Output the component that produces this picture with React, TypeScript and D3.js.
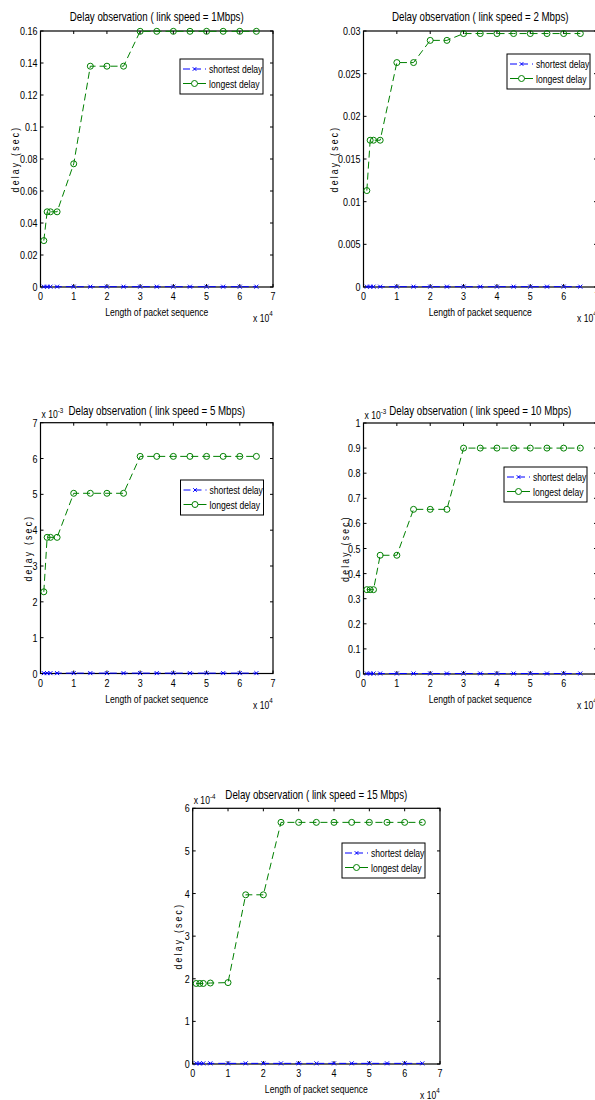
import React from "react";
import * as d3 from "d3";

// ---------- data ----------
const packetLengths = [1000, 2000, 3000, 5000, 10000, 15000, 20000, 25000, 30000, 35000, 40000, 45000, 50000, 55000, 60000, 65000];

const longest1 = [0.029, 0.047, 0.047, 0.047, 0.077, 0.138, 0.138, 0.138, 0.1598, 0.1598, 0.1598, 0.1598, 0.1598, 0.1598, 0.1598, 0.1598];
const shortest1 = [0.0002, 0.0002, 0.0002, 0.0002, 0.0002, 0.0002, 0.0002, 0.0002, 0.0002, 0.0002, 0.0002, 0.0002, 0.0002, 0.0002, 0.0002, 0.0002];

const longest2 = [0.0113, 0.0172, 0.0172, 0.0172, 0.0263, 0.0263, 0.0289, 0.0289, 0.0297, 0.0297, 0.0297, 0.0297, 0.0297, 0.0297, 0.0297, 0.0297];
const shortest2 = [0.00004, 0.00004, 0.00004, 0.00004, 0.00004, 0.00004, 0.00004, 0.00004, 0.00004, 0.00004, 0.00004, 0.00004, 0.00004, 0.00004, 0.00004, 0.00004];

const longest3 = [0.00228, 0.0038, 0.0038, 0.0038, 0.00503, 0.00503, 0.00503, 0.00503, 0.00606, 0.00606, 0.00606, 0.00606, 0.00606, 0.00606, 0.00606, 0.00606];
const shortest3 = [0.00001, 0.00001, 0.00001, 0.00001, 0.00001, 0.00001, 0.00001, 0.00001, 0.00001, 0.00001, 0.00001, 0.00001, 0.00001, 0.00001, 0.00001, 0.00001];

const longest4 = [0.000336, 0.000336, 0.000336, 0.000473, 0.000473, 0.000656, 0.000656, 0.000656, 0.0009, 0.0009, 0.0009, 0.0009, 0.0009, 0.0009, 0.0009, 0.0009];
const shortest4 = [0.000002, 0.000002, 0.000002, 0.000002, 0.000002, 0.000002, 0.000002, 0.000002, 0.000002, 0.000002, 0.000002, 0.000002, 0.000002, 0.000002, 0.000002, 0.000002];

const longest5 = [0.000189, 0.000189, 0.000189, 0.00019, 0.000191, 0.000397, 0.000397, 0.000567, 0.000567, 0.000567, 0.000567, 0.000567, 0.000567, 0.000567, 0.000567, 0.000567];
const shortest5 = [0.0000015, 0.0000015, 0.0000015, 0.0000015, 0.0000015, 0.0000015, 0.0000015, 0.0000015, 0.0000015, 0.0000015, 0.0000015, 0.0000015, 0.0000015, 0.0000015, 0.0000015, 0.0000015];

const xTicks = [0, 10000, 20000, 30000, 40000, 50000, 60000, 70000];
const xTickLabels = ["0", "1", "2", "3", "4", "5", "6", "7"];

const yTicks1 = [0, 0.02, 0.04, 0.06, 0.08, 0.1, 0.12, 0.14, 0.16];
const yTickLabels1 = ["0", "0.02", "0.04", "0.06", "0.08", "0.1", "0.12", "0.14", "0.16"];
const yTicks2 = [0, 0.005, 0.01, 0.015, 0.02, 0.025, 0.03];
const yTickLabels2 = ["0", "0.005", "0.01", "0.015", "0.02", "0.025", "0.03"];
const yTicks3 = [0, 0.001, 0.002, 0.003, 0.004, 0.005, 0.006, 0.007];
const yTickLabels3 = ["0", "1", "2", "3", "4", "5", "6", "7"];
const yTicks4 = [0, 0.0001, 0.0002, 0.0003, 0.0004, 0.0005, 0.0006, 0.0007, 0.0008, 0.0009, 0.001];
const yTickLabels4 = ["0", "0.1", "0.2", "0.3", "0.4", "0.5", "0.6", "0.7", "0.8", "0.9", "1"];
const yTicks5 = [0, 0.0001, 0.0002, 0.0003, 0.0004, 0.0005, 0.0006];
const yTickLabels5 = ["0", "1", "2", "3", "4", "5", "6"];

const titles = [
  "Delay observation ( link speed = 1Mbps)",
  "Delay observation ( link speed = 2 Mbps)",
  "Delay observation ( link speed = 5 Mbps)",
  "Delay observation ( link speed = 10 Mbps)",
  "Delay observation ( link speed = 15 Mbps)",
];
const seriesNames = ["shortest delay", "longest delay"];

// ---------- style ----------
const FONT = "'Liberation Sans', Arial, Helvetica, sans-serif";
const SX = 0.78; // condensed look of the original typeface
const GREEN = "#008000";
const BLUE = "#0000ff";

type PanelCfg = {
  title: string;
  left: number; top: number; right: number; bottom: number;
  yMax: number; yTicks: number[]; yTickLabels: string[];
  exponent?: string;
  longest: number[]; shortest: number[];
  legendX: number; legendY: number;
  yLabelOffset: number;
  titleOffset: number;
};

const panels: PanelCfg[] = [
  { title: titles[0], left: 40.5, top: 31, right: 273, bottom: 287, yMax: 0.16, yTicks: yTicks1, yTickLabels: yTickLabels1, longest: longest1, shortest: shortest1, legendX: 180, legendY: 59, yLabelOffset: 22, titleOffset: 10 },
  { title: titles[1], left: 363.5, top: 31, right: 597, bottom: 287, yMax: 0.03, yTicks: yTicks2, yTickLabels: yTickLabels2, longest: longest2, shortest: shortest2, legendX: 507, legendY: 54, yLabelOffset: 26, titleOffset: 10 },
  { title: titles[2], left: 40.5, top: 422.7, right: 273, bottom: 673.5, yMax: 0.007, yTicks: yTicks3, yTickLabels: yTickLabels3, exponent: "-3", longest: longest3, shortest: shortest3, legendX: 180.5, legendY: 480, yLabelOffset: 9, titleOffset: 8 },
  { title: titles[3], left: 363.5, top: 423, right: 597, bottom: 674, yMax: 0.001, yTicks: yTicks4, yTickLabels: yTickLabels4, exponent: "-3", longest: longest4, shortest: shortest4, legendX: 504, legendY: 467, yLabelOffset: 15, titleOffset: 8 },
  { title: titles[4], left: 192.7, top: 808.3, right: 440, bottom: 1064, yMax: 0.0006, yTicks: yTicks5, yTickLabels: yTickLabels5, exponent: "-4", longest: longest5, shortest: shortest5, legendX: 342, legendY: 843, yLabelOffset: 11, titleOffset: 9 },
];

function T({ x, y, size = 11, anchor = "start", rotate = 0, spacing = 0, children }: any) {
  return (
    <text
      transform={`translate(${x},${y})${rotate ? ` rotate(${rotate})` : ""} scale(${SX},1)`}
      fontSize={size}
      textAnchor={anchor}
      letterSpacing={spacing}
      fill="#000"
    >
      {children}
    </text>
  );
}

function XMark({ x, y, s = 2 }: { x: number; y: number; s?: number }) {
  return (
    <path d={`M${x - s},${y - s}L${x + s},${y + s}M${x - s},${y + s}L${x + s},${y - s}`} stroke={BLUE} strokeWidth={1} fill="none" />
  );
}

function Panel({ cfg }: { cfg: PanelCfg }) {
  const x = d3.scaleLinear().domain([0, 70000]).range([cfg.left, cfg.right]);
  const y = d3.scaleLinear().domain([0, cfg.yMax]).range([cfg.bottom, cfg.top]);
  const line = d3.line<number>().x((_, i) => x(packetLengths[i])).y((d) => y(d));
  const tl = 3;
  const cx = (cfg.left + cfg.right) / 2;
  const cy = (cfg.top + cfg.bottom) / 2;
  const lx = cfg.legendX, ly = cfg.legendY;
  return (
    <g>
      {/* frame */}
      <rect x={cfg.left} y={cfg.top} width={cfg.right - cfg.left} height={cfg.bottom - cfg.top} fill="none" stroke="#000" strokeWidth={1.2} />
      {/* x ticks */}
      {xTicks.map((t, i) => (
        <g key={"xt" + i}>
          <line x1={x(t)} x2={x(t)} y1={cfg.bottom} y2={cfg.bottom - tl} stroke="#000" />
          <line x1={x(t)} x2={x(t)} y1={cfg.top} y2={cfg.top + tl} stroke="#000" />
          <T x={x(t)} y={cfg.bottom + 13} size={11.5} anchor="middle">{xTickLabels[i]}</T>
        </g>
      ))}
      {/* y ticks */}
      {cfg.yTicks.map((t, i) => (
        <g key={"yt" + i}>
          <line x1={cfg.left} x2={cfg.left + tl} y1={y(t)} y2={y(t)} stroke="#000" />
          <line x1={cfg.right} x2={cfg.right - tl} y1={y(t)} y2={y(t)} stroke="#000" />
          <T x={cfg.left - 3} y={y(t) + 4} size={11.5} anchor="end">{cfg.yTickLabels[i]}</T>
        </g>
      ))}
      {/* series */}
      <path d={line(cfg.shortest) || ""} fill="none" stroke={BLUE} strokeWidth={1} strokeDasharray="7,4" />
      {cfg.shortest.map((v, i) => (
        <XMark key={"s" + i} x={x(packetLengths[i])} y={y(v)} />
      ))}
      <path d={line(cfg.longest) || ""} fill="none" stroke={GREEN} strokeWidth={1} strokeDasharray="7,4" />
      {cfg.longest.map((v, i) => (
        <circle key={"l" + i} cx={x(packetLengths[i])} cy={y(v)} r={3} fill="none" stroke={GREEN} strokeWidth={1} />
      ))}
      {/* title */}
      <T x={cx} y={cfg.top - cfg.titleOffset} size={12.5} anchor="middle">{cfg.title}</T>
      {cfg.exponent && (
        <T x={cfg.left + 1} y={cfg.top - 4.5} size={11}>
          x 10<tspan dy={-5} fontSize={8}>{cfg.exponent}</tspan>
        </T>
      )}
      {/* axis labels */}
      <T x={cx} y={cfg.bottom + 29} size={11} anchor="middle">Length of packet sequence</T>
      <T x={cfg.right - 20} y={cfg.bottom + 35} size={11}>
        x 10<tspan dy={-6} fontSize={8}>4</tspan>
      </T>
      <T x={cfg.left - cfg.yLabelOffset} y={cy} rotate={-90} size={11} anchor="middle" spacing={2.9}>delay  (sec)</T>
      {/* legend */}
      <rect x={lx} y={ly} width={83} height={35} fill="#fff" stroke="#000" strokeWidth={1} />
      <line x1={lx + 3} x2={lx + 26} y1={ly + 10} y2={ly + 10} stroke={BLUE} strokeDasharray="7,4" />
      <XMark x={lx + 14.5} y={ly + 10} s={1.8} />
      <T x={lx + 29} y={ly + 14} size={11}>{seriesNames[0]}</T>
      <line x1={lx + 3} x2={lx + 26} y1={ly + 24.5} y2={ly + 24.5} stroke={GREEN} />
      <circle cx={lx + 14.5} cy={ly + 24.5} r={3} fill="#fff" stroke={GREEN} />
      <T x={lx + 29} y={ly + 28.5} size={11}>{seriesNames[1]}</T>
    </g>
  );
}

export default function App() {
  return (
    <svg width={595} height={1100} style={{ position: "absolute", left: 0, top: 0, background: "#fff" }} fontFamily={FONT}>
      <rect x={0} y={0} width={595} height={1100} fill="#fff" />
      {panels.map((p, i) => (
        <Panel key={i} cfg={p} />
      ))}
    </svg>
  );
}
